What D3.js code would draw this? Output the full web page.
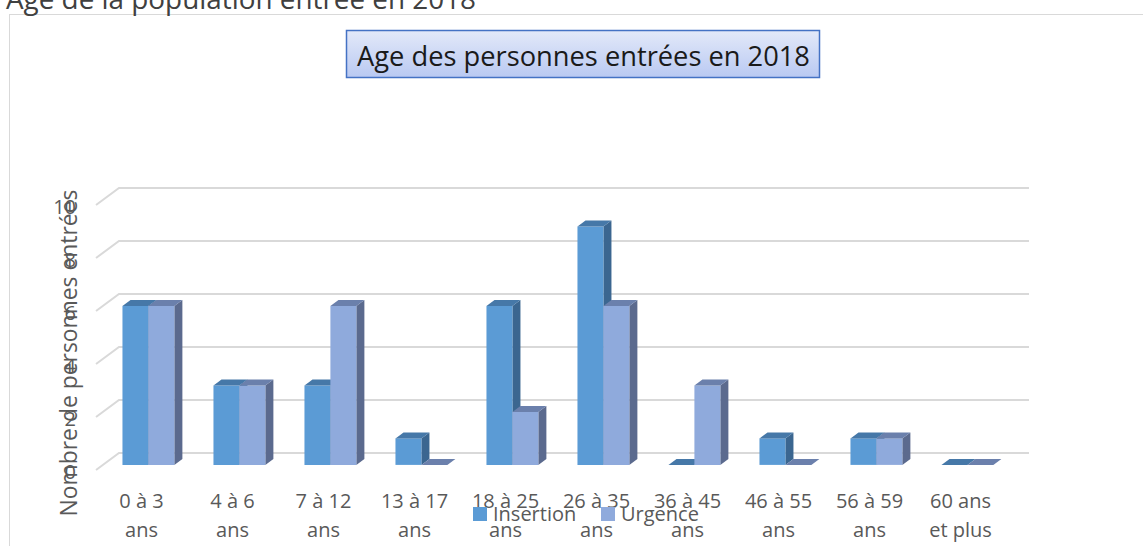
<!DOCTYPE html>
<html>
<head>
<meta charset="utf-8">
<script src="https://cdn.jsdelivr.net/npm/d3@7"></script>
<style>
	body { margin: 0; background: #fff; }
	svg { display: block; font-family: "Open Sans", sans-serif; }
</style>
</head>
<body>
<div id="chart"></div>
<script>
///////////////////////////////////////////////////////////////////////////
//////////////////////////// data /////////////////////////////////////////
///////////////////////////////////////////////////////////////////////////

const categories = [
	["0 à 3", "ans"],
	["4 à 6", "ans"],
	["7 à 12", "ans"],
	["13 à 17", "ans"],
	["18 à 25", "ans"],
	["26 à 35", "ans"],
	["36 à 45", "ans"],
	["46 à 55", "ans"],
	["56 à 59", "ans"],
	["60 ans", "et plus"]
];
const series = ["Insertion", "Urgence"];
const insertion = [6, 3, 3, 1, 6, 9, 0, 1, 1, 0];
const urgence = [6, 3, 6, 0, 2, 6, 3, 0, 1, 0];
const yTicks = [0, 2, 4, 6, 8, 10];

const colors = {
	Insertion: { front: "#5b9bd5", top: "#4678a8", side: "#3b6690" },
	Urgence: { front: "#8faadc", top: "#6b80ac", side: "#5b6a8e" }
};

///////////////////////////////////////////////////////////////////////////
//////////////////////////// svg //////////////////////////////////////////
///////////////////////////////////////////////////////////////////////////

var width = 1143,
	height = 546;

// floor front edge and depth vector of the 3d box
var floorLeft = 96,
	floorRight = 1006,
	depth = { x: 23, y: -17 },
	barDepth = [0.3, 0.65];

const svg = d3.select("#chart")
	.append("svg")
	.attr("width", width)
	.attr("height", height);

// shrink / grow a text's font so it spans the wanted width
function fitText(sel, target) {
	var fs = +sel.attr("font-size");
	var w = sel.node().getComputedTextLength();
	if (w > 0) sel.attr("font-size", (fs * target / w).toFixed(2));
	return sel;
}

// chart frame
svg.append("rect")
	.attr("x", 9.5)
	.attr("y", 14.5)
	.attr("width", 1160)
	.attr("height", 560)
	.attr("fill", "none")
	.attr("stroke", "#d9d9d9");

// heading above the frame (cut at the top)
svg.append("text")
	.attr("x", 6)
	.attr("y", 9)
	.attr("font-size", 26)
	.attr("fill", "#404040")
	.text("Age de la population entrée en 2018")
	.call(fitText, 470);

// scales
var x = d3.scaleBand()
	.domain(d3.range(categories.length))
	.range([floorLeft, floorRight])
	.paddingInner(0.43)
	.paddingOuter(0.215);

var xSub = d3.scaleBand()
	.domain(series)
	.range([0, x.bandwidth()]);

var y = d3.scaleLinear().domain([0, 10]).range([470, 205]);

function shift(px, py, t) {
	return [px + depth.x * t, py + depth.y * t];
}

// gridlines: side wall + back wall
var grid = svg.append("g");
yTicks.forEach((v) => {
	var p0 = [floorLeft, y(v)],
		p1 = shift(floorLeft, y(v), 1),
		p2 = shift(floorRight, y(v), 1);
	grid.append("polyline")
		.attr("points", [p0, p1, p2].map((p) => p.join(",")).join(" "))
		.attr("fill", "none")
		.attr("stroke", "#d9d9d9")
		.attr("stroke-width", 2);
});

// y axis labels
svg.append("g")
	.selectAll("text")
	.data(yTicks)
	.enter()
	.append("text")
	.attr("x", 76)
	.attr("y", (d) => y(d) + 2)
	.attr("dy", "0.35em")
	.attr("text-anchor", "end")
	.attr("font-size", 20)
	.attr("fill", "#595959")
	.text((d) => d);

// y axis title
svg.append("text")
	.attr("transform", "translate(77,353) rotate(-90)")
	.attr("text-anchor", "middle")
	.attr("font-size", 24)
	.attr("fill", "#595959")
	.text("Nombre de personnes entrées")
	.call(fitText, 327);

///////////////////////////////////////////////////////////////////////////
//////////////////////////// bars /////////////////////////////////////////
///////////////////////////////////////////////////////////////////////////

var bars = [];
categories.forEach((c, i) => {
	bars.push({ cat: i, key: "Insertion", value: insertion[i] });
	bars.push({ cat: i, key: "Urgence", value: urgence[i] });
});

function pts(arr) {
	return arr.map((p) => p.join(",")).join(" ");
}

var barG = svg.append("g")
	.selectAll("g")
	.data(bars)
	.enter()
	.append("g");

barG.each(function (d) {
	var g = d3.select(this),
		x0 = x(d.cat) + xSub(d.key),
		x1 = x0 + xSub.bandwidth(),
		yb = y(0),
		yt = y(d.value),
		t0 = barDepth[0],
		t1 = barDepth[1],
		c = colors[d.key];

	var fbl = shift(x0, yb, t0),
		fbr = shift(x1, yb, t0),
		ftl = shift(x0, yt, t0),
		ftr = shift(x1, yt, t0),
		btl = shift(x0, yt, t1),
		btr = shift(x1, yt, t1),
		bbr = shift(x1, yb, t1);

	if (d.value > 0) {
		g.append("polygon")
			.attr("points", pts([fbr, ftr, btr, bbr]))
			.attr("fill", c.side);
		g.append("polygon")
			.attr("points", pts([fbl, fbr, ftr, ftl]))
			.attr("fill", c.front);
	}
	g.append("polygon")
		.attr("points", pts([ftl, ftr, btr, btl]))
		.attr("fill", c.top);
});

// x axis labels (centred on the floor front)
var xl = svg.append("g")
	.selectAll("text")
	.data(categories)
	.enter()
	.append("text")
	.attr("text-anchor", "middle")
	.attr("font-size", 20)
	.attr("fill", "#595959")
	.attr("transform", (d, i) => "translate(" + (x(i) + x.bandwidth() / 2) + ",508)");

xl.append("tspan").attr("x", 0).attr("y", 0).text((d) => d[0]);
xl.append("tspan").attr("x", 0).attr("y", 29).text((d) => d[1]);

// legend
var legendX = [473, 601];
var legend = svg.append("g")
	.selectAll("g")
	.data(series)
	.enter()
	.append("g")
	.attr("transform", (d, i) => "translate(" + legendX[i] + ",507)");

legend.append("rect")
	.attr("width", 14)
	.attr("height", 14)
	.attr("fill", (d) => colors[d].front);

legend.append("text")
	.attr("x", 20)
	.attr("y", 14)
	.attr("font-size", 20)
	.attr("fill", "#595959")
	.text((d) => d);

///////////////////////////////////////////////////////////////////////////
//////////////////////////// title box ////////////////////////////////////
///////////////////////////////////////////////////////////////////////////

var defs = svg.append("defs");
var grad = defs.append("linearGradient")
	.attr("id", "titleFill")
	.attr("x1", 0).attr("y1", 0)
	.attr("x2", 0).attr("y2", 1);
grad.append("stop").attr("offset", "0%").attr("stop-color", "#e3e9f9");
grad.append("stop").attr("offset", "100%").attr("stop-color", "#b9c9f2");

svg.append("rect")
	.attr("x", 346.5)
	.attr("y", 30.5)
	.attr("width", 473)
	.attr("height", 47)
	.attr("fill", "url(#titleFill)")
	.attr("stroke", "#4472c4")
	.attr("stroke-width", 1.5);

svg.append("text")
	.attr("x", 583.5)
	.attr("y", 66)
	.attr("text-anchor", "middle")
	.attr("font-size", 28)
	.attr("fill", "#1a1a1a")
	.text("Age des personnes entrées en 2018")
	.call(fitText, 453);
</script>
</body>
</html>
